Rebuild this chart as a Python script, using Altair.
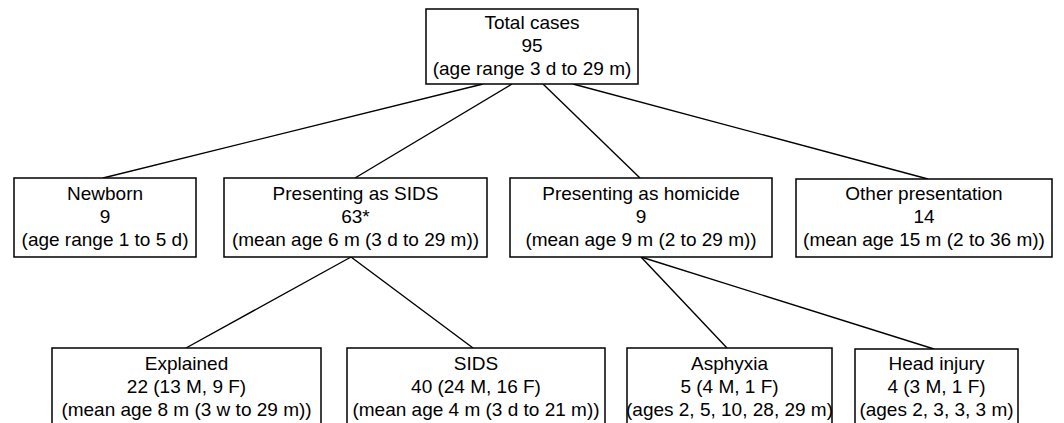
import altair as alt
import pandas as pd

# Node contents (three text lines each)
node_ids = ["total", "newborn", "sids_pres", "homicide", "other",
            "explained", "sids", "asphyxia", "head"]
line1 = ["Total cases", "Newborn", "Presenting as SIDS", "Presenting as homicide",
         "Other presentation", "Explained", "SIDS", "Asphyxia", "Head injury"]
line2 = ["95", "9", "63*", "9", "14", "22 (13 M, 9 F)", "40 (24 M, 16 F)",
         "5 (4 M, 1 F)", "4 (3 M, 1 F)"]
line3 = ["(age range 3 d to 29 m)", "(age range 1 to 5 d)",
         "(mean age 6 m (3 d to 29 m))", "(mean age 9 m (2 to 29 m))",
         "(mean age 15 m (2 to 36 m))", "(mean age 8 m (3 w to 29 m))",
         "(mean age 4 m (3 d to 21 m))", "(ages 2, 5, 10, 28, 29 m)",
         "(ages 2, 3, 3, 3 m)"]

# Layout of the diagram (page pixel coordinates)
box_left = [426, 14, 224, 510, 796, 52, 347, 627, 855]
box_right = [638, 196, 487, 772, 1052, 321, 605, 832, 1018]
box_top = [9, 178, 178, 178, 179, 348, 348, 348, 349]
box_bottom = [84, 257, 257, 257, 257, 440, 440, 440, 440]
text_top = [7, 178, 178, 178, 178, 348, 348, 348, 348]

# Edges: parent -> child with attachment x positions
edge_from = ["total", "total", "total", "total", "sids_pres", "sids_pres", "homicide", "homicide"]
edge_to = ["newborn", "sids_pres", "homicide", "other", "explained", "sids", "asphyxia", "head"]
edge_x1 = [483, 512, 543, 573, 351, 351, 641, 641]
edge_x2 = [103, 355, 640, 928, 186, 473, 727, 934]

boxes = pd.DataFrame({"id": node_ids, "x": box_left, "x2": box_right,
                      "y": box_top, "y2": box_bottom})
ypos = dict(zip(node_ids, box_top))
ybot = dict(zip(node_ids, box_bottom))
edges = pd.DataFrame({
    "x": edge_x1, "x2": edge_x2,
    "y": [ybot[f] for f in edge_from],
    "y2": [ypos[t] for t in edge_to],
})

rows = []
for i, nid in enumerate(node_ids):
    cx = (box_left[i] + box_right[i]) / 2
    for k, t in enumerate([line1[i], line2[i], line3[i]]):
        rows.append({"x": cx, "y": text_top[i] + 16 + 23 * k, "text": t})
texts = pd.DataFrame(rows)

xs = alt.Scale(domain=[8, 1056], range=[0, 1048], nice=False, zero=False)
ys = alt.Scale(domain=[8, 423], range=[0, 415], nice=False, zero=False)

lines = alt.Chart(edges).mark_rule(color="black", strokeWidth=1.4).encode(
    x=alt.X("x:Q", scale=xs, axis=None),
    x2="x2:Q",
    y=alt.Y("y:Q", scale=ys, axis=None),
    y2="y2:Q",
)

rects = alt.Chart(boxes).mark_rect(fill="white", stroke="black", strokeWidth=1.5, clip=True).encode(
    x=alt.X("x:Q", scale=xs, axis=None),
    x2="x2:Q",
    y=alt.Y("y:Q", scale=ys, axis=None),
    y2="y2:Q",
)

labels = alt.Chart(texts).mark_text(
    font="Liberation Sans", fontSize=19, color="black", baseline="middle", align="center"
).encode(
    x=alt.X("x:Q", scale=xs, axis=None),
    y=alt.Y("y:Q", scale=ys, axis=None),
    text="text:N",
)

chart = alt.layer(lines, rects, labels).properties(
    width=1048, height=415,
    autosize=alt.AutoSizeParams(type="fit", contains="padding"),
    padding=0,
    background="white",
).configure_view(stroke=None)

chart.save("out.html", embed_options={"renderer": "svg", "actions": False})
